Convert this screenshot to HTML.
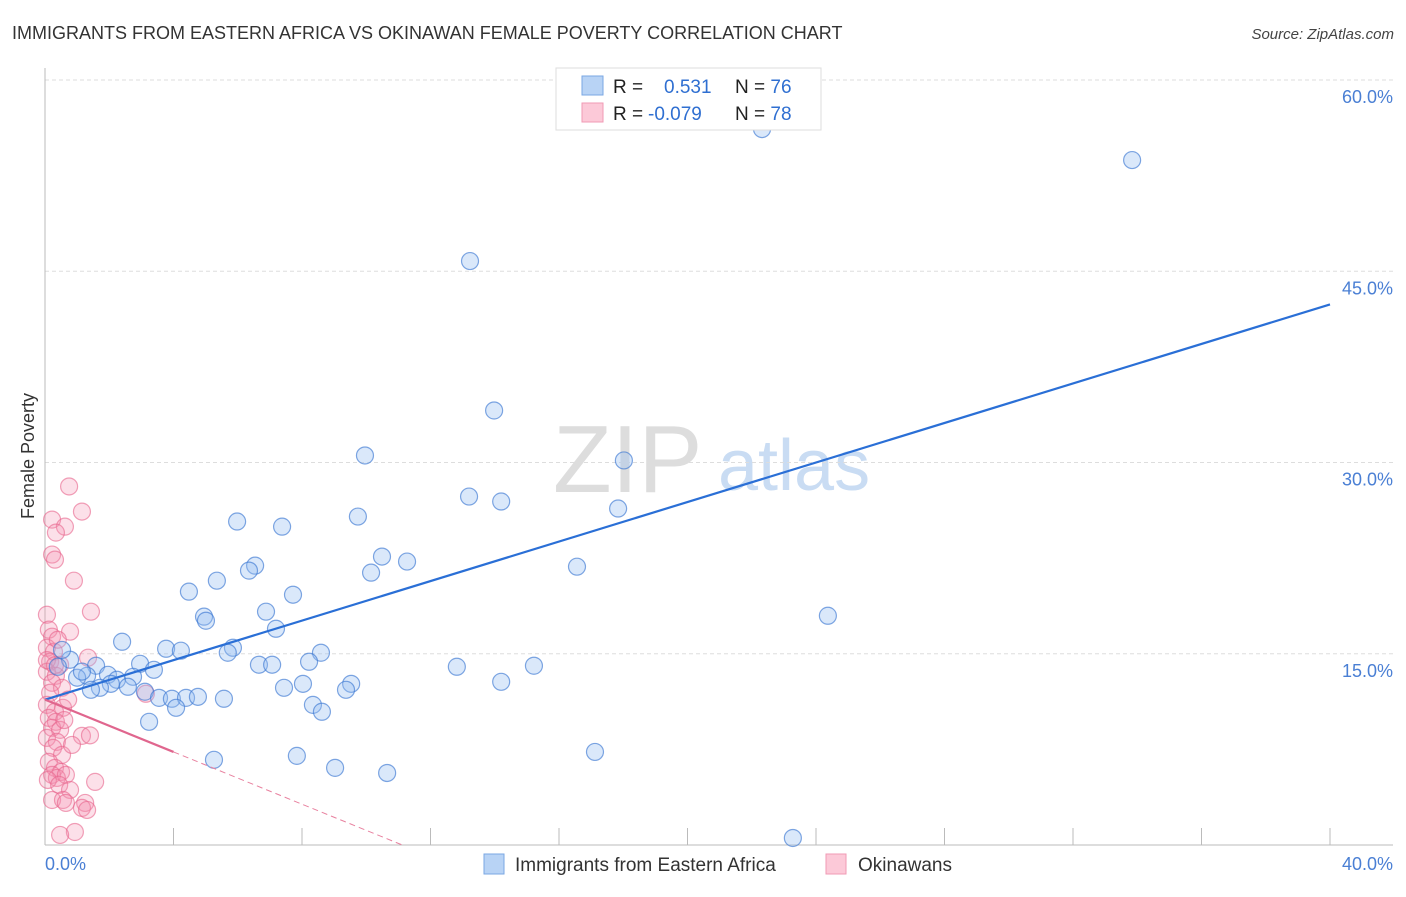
<!DOCTYPE html>
<html><head><meta charset="utf-8"><style>
body{margin:0;background:#fff;font-family:"Liberation Sans",sans-serif}
svg text{font-family:"Liberation Sans",sans-serif}
</style></head><body>
<svg id="c" width="1406" height="892">
<text x="12" y="39" font-size="18" fill="#333">IMMIGRANTS FROM EASTERN AFRICA VS OKINAWAN FEMALE POVERTY CORRELATION CHART</text>
<text x="1394" y="39" font-size="15" fill="#444" font-style="italic" text-anchor="end">Source: ZipAtlas.com</text>
<text x="34" y="456" font-size="18" fill="#333" transform="rotate(-90 34 456)" text-anchor="middle">Female Poverty</text>
<g>
<text x="553" y="492" font-size="96" font-family="Liberation Serif" fill="#ddd">ZIP</text>
<text x="718" y="490" font-size="72" fill="#c9dcf3">atlas</text>
</g>
<g id="grid"></g><g id="axes"></g><g id="pts"></g><g id="trend"></g>
<g>
<rect x="556" y="68" width="265" height="62" fill="#fff" stroke="#ddd"/>
<rect x="582" y="76" width="21" height="19" fill="#b8d3f5" stroke="#7aa7e3"/>
<rect x="582" y="103" width="21" height="19" fill="#fcc9d8" stroke="#f09ab4"/>
<text x="613" y="93" font-size="19" fill="#222">R = <tspan x="664" fill="#2f6fd1">0.531</tspan><tspan x="735" fill="#222">N = </tspan><tspan fill="#2f6fd1">76</tspan></text>
<text x="613" y="120" font-size="19" fill="#222">R = <tspan x="648" fill="#2f6fd1">-0.079</tspan><tspan x="735" fill="#222">N = </tspan><tspan fill="#2f6fd1">78</tspan></text>
</g>
<g>
<rect x="484" y="854" width="20" height="20" fill="#b8d3f5" stroke="#7aa7e3"/>
<text x="515" y="871" font-size="19" fill="#333">Immigrants from Eastern Africa</text>
<rect x="826" y="854" width="20" height="20" fill="#fcc9d8" stroke="#f09ab4"/>
<text x="858" y="871" font-size="19" fill="#333">Okinawans</text>
</g>
</svg>
<script>
const yTicks=[15,30,45,60];
const yTickLabels=["15.0%","30.0%","45.0%","60.0%"];
const xTickLabels=["0.0%","40.0%"];
const blueX=[22.32,33.84,13.23,13.98,9.96,18.02,13.2,14.2,17.84,9.74,5.98,7.38,10.49,11.27,6.54,6.35,10.15,16.56,5.35,4.48,7.72,6.88,24.37,4.95,5.01,7.19,2.4,3.77,4.23,5.85,5.69,8.59,8.22,6.66,7.07,2.96,1.59,12.82,15.22,3.39,0.78,0.4,1.96,2.74,1.31,1.0,2.24,2.05,2.58,1.71,1.43,8.03,9.53,14.2,7.44,9.37,3.11,3.55,3.95,4.39,4.76,5.57,8.34,4.08,8.62,3.24,17.12,5.26,7.84,9.03,10.65,23.28,0.53,1.15];
const blueY=[56.15,53.72,45.8,34.08,30.55,30.16,27.33,26.94,26.39,25.76,25.37,24.97,22.62,22.23,21.91,21.52,21.36,21.83,20.73,19.87,19.63,18.3,17.98,17.91,17.59,16.96,15.94,15.39,15.24,15.47,15.08,15.08,14.37,14.14,14.14,14.21,14.06,13.98,14.06,13.74,14.53,13.98,13.35,13.19,13.27,13.12,12.96,12.64,12.41,12.33,12.17,12.64,12.64,12.8,12.33,12.17,12.02,11.54,11.47,11.54,11.62,11.47,10.99,10.76,10.45,9.66,7.3,6.68,6.99,6.05,5.65,0.55,15.3,13.6];
const pinkX=[0.75,1.15,0.22,0.62,0.34,0.22,0.31,0.9,1.43,0.06,0.12,0.78,0.22,0.06,0.28,1.34,0.16,0.47,0.06,0.34,0.22,0.53,0.16,3.14,0.06,0.56,0.31,0.12,0.34,0.22,0.47,1.15,0.06,0.37,0.25,0.53,0.12,0.31,0.5,0.22,0.37,0.65,0.09,1.56,0.44,0.78,0.22,0.56,1.25,1.15,0.65,1.31,0.93,0.47,0.06,0.31,0.4,0.84,1.4,0.72,0.6];
const pinkY=[28.12,26.15,25.52,24.97,24.5,22.78,22.38,20.73,18.3,18.06,16.89,16.73,16.34,15.47,15.16,14.69,14.37,14.14,13.59,13.27,12.72,12.33,11.94,11.86,10.99,10.76,10.45,9.97,9.66,9.19,9.03,8.56,8.4,8.09,7.62,7.07,6.52,6.05,5.73,5.5,5.26,5.5,5.1,4.95,4.71,4.32,3.53,3.53,3.3,2.91,3.3,2.75,1.02,0.79,14.5,14.1,16.1,7.85,8.6,11.4,9.8];
const blueTrend=[11.4,42.4]; // y at x=0 and x=40
const pinkTrend=[11.4,7.3]; // y at x=0 and x=4 (solid segment)
const X0=45,X1=1330,Y0=845,Y60=80;
const sx=v=>X0+v/40*(X1-X0), sy=v=>Y0-v/60*(Y0-Y60);
const NS="http://www.w3.org/2000/svg";
function mk(tag,attrs,parent){const e=document.createElementNS(NS,tag);for(const k in attrs)e.setAttribute(k,attrs[k]);document.getElementById(parent).appendChild(e);return e;}
yTicks.forEach((t,i)=>{
 const g=mk('line',{x1:X0,x2:1393,y1:sy(t),y2:sy(t),stroke:'#ddd','stroke-dasharray':'4,3'},'grid');
 
 
 const l=mk('text',{x:1393,y:sy(t)+23,'font-size':18,fill:'#4a7fd4','text-anchor':'end'},'grid');
 l.textContent=yTickLabels[i];
 
 
});
let a=mk('line',{x1:X0,x2:X0,y1:68,y2:Y0,stroke:'#bbb'},'axes');


a=mk('line',{x1:X0,x2:1393,y1:Y0,y2:Y0,stroke:'#bbb'},'axes');


for(let i=1;i<=10;i++){const t=mk('line',{x1:sx(i*4),x2:sx(i*4),y1:Y0,y2:Y0-17,stroke:'#bbb'},'axes');
 
 }
let xl=mk('text',{x:45,y:870,'font-size':18,fill:'#4a7fd4'},'axes');xl.textContent=xTickLabels[0];


xl=mk('text',{x:1393,y:870,'font-size':18,fill:'#4a7fd4','text-anchor':'end'},'axes');xl.textContent=xTickLabels[1];


pinkX.forEach((v,i)=>{const c=mk('circle',{cx:sx(v),cy:sy(pinkY[i]),r:8.5,fill:'rgba(244,143,177,0.28)',stroke:'rgba(232,100,140,0.6)','stroke-width':1.2},'pts');
 
 });
blueX.forEach((v,i)=>{const c=mk('circle',{cx:sx(v),cy:sy(blueY[i]),r:8.5,fill:'rgba(150,190,240,0.35)',stroke:'rgba(60,120,210,0.65)','stroke-width':1.2},'pts');
 
 });
let t=mk('line',{x1:sx(0),y1:sy(blueTrend[0]),x2:sx(40),y2:sy(blueTrend[1]),stroke:'#2a6fd6','stroke-width':2.2},'trend');


const slope=(pinkTrend[1]-pinkTrend[0])/4, xz=-pinkTrend[0]/slope;
t=mk('line',{x1:sx(4),y1:sy(pinkTrend[1]),x2:sx(xz),y2:sy(0),stroke:'#e8819f','stroke-width':1,'stroke-dasharray':'6,4'},'trend');


t=mk('line',{x1:sx(0),y1:sy(pinkTrend[0]),x2:sx(4),y2:sy(pinkTrend[1]),stroke:'#e0668e','stroke-width':2.2},'trend');


</script>
</body></html>
